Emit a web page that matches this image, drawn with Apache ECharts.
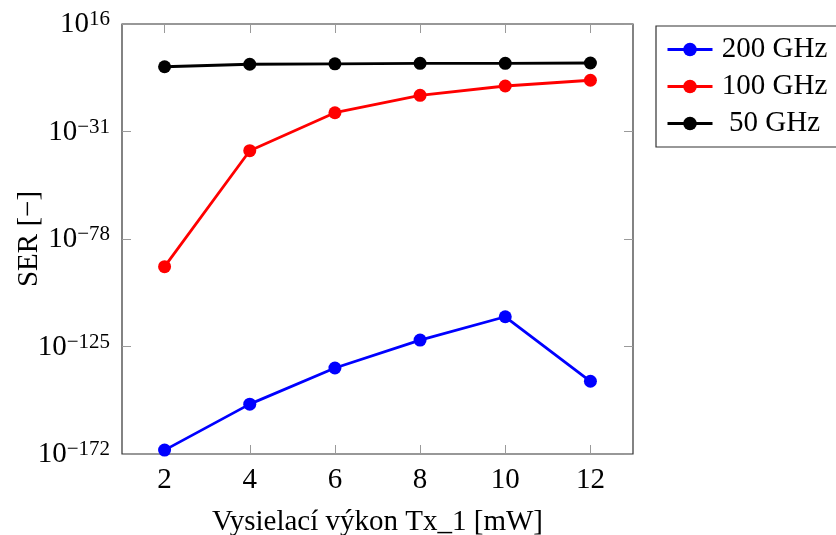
<!DOCTYPE html>
<html><head><meta charset="utf-8">
<script src="https://cdn.jsdelivr.net/npm/echarts@6/dist/echarts.min.js"></script>
<style>html,body{margin:0;padding:0;background:#fff}#c{width:836px;height:535px}</style>
</head><body><div id="c"></div>
<script>
const xValues = [2, 4, 6, 8, 10, 12];
// values as log10(SER)
const ser200 = [-170.3, -150.2, -134.4, -122.2, -112.0, -140.2];
const ser100 = [-90.1, -39.4, -22.8, -15.2, -11.1, -8.6];
const ser50 = [-2.7, -1.6, -1.4, -1.2, -1.2, -1.05];
const xTicks = [2, 4, 6, 8, 10, 12];
const yTicks = [-172, -125, -78, -31, 16];
const seriesNames = ['200 GHz', '100 GHz', '50 GHz'];
const colors = ['#0000ff', '#ff0000', '#000000'];

const FONT = 'Liberation Serif';
const chart = echarts.init(document.getElementById('c'), null, {renderer: 'canvas'});
function pairs(ys) { return xValues.map((x, i) => [x, ys[i]]); }
function sup(v) { return '{b|10}{s|' + String(v).replace('-', '\u2212') + '}'; }
const tickStyle = {show: true, inside: true, length: 9, lineStyle: {color: '#9a9a9a', width: 1}};
const noLine = {show: false, onZero: false};
const allData = [ser200, ser100, ser50];
chart.setOption({
  animation: false,
  grid: {left: 122, top: 24, right: 203, bottom: 81, outerBoundsMode: 'none', containLabel: false,
    show: true, borderColor: '#333', borderWidth: 1.2, backgroundColor: '#fff'},
  legend: {
    orient: 'vertical', left: 656, top: 26,
    borderColor: '#333', borderWidth: 1.2, backgroundColor: '#fff',
    padding: [9, 10, 9, 10], itemGap: 8, itemWidth: 45, itemHeight: 17,
    lineStyle: {width: 3},
    data: seriesNames,
    formatter: n => '{c|' + n + '}',
    textStyle: {fontFamily: FONT, fontSize: 29, color: '#000',
      rich: {c: {fontFamily: FONT, fontSize: 29, width: 114, align: 'center', color: '#000'}}}
  },
  xAxis: [{
    type: 'value', min: 1, max: 13, position: 'bottom',
    name: 'Vysielací výkon Tx_1 [mW]', nameLocation: 'middle', nameGap: 54, nameMoveOverlap: false,
    nameTextStyle: {fontFamily: FONT, fontSize: 29, color: '#000'},
    axisLine: noLine, splitLine: {show: false},
    axisTick: Object.assign({customValues: xTicks}, tickStyle),
    axisLabel: {customValues: xTicks, fontFamily: FONT, fontSize: 29, color: '#000', margin: 12}
  }, {
    type: 'value', min: 1, max: 13, position: 'top',
    axisLine: noLine, splitLine: {show: false},
    axisTick: Object.assign({customValues: xTicks}, tickStyle),
    axisLabel: {show: false}
  }],
  yAxis: [{
    type: 'value', min: -172, max: 16, position: 'left',
    name: 'SER [\u2212]', nameLocation: 'middle', nameGap: 93, nameRotate: 90, nameMoveOverlap: false,
    nameTextStyle: {fontFamily: FONT, fontSize: 29, color: '#000', verticalAlign: 'middle'},
    axisLine: noLine, splitLine: {show: false},
    axisTick: Object.assign({customValues: yTicks}, tickStyle),
    axisLabel: {customValues: yTicks, margin: 12, formatter: v => sup(v),
      rich: {
        b: {fontFamily: FONT, fontSize: 29, color: '#000', lineHeight: 30, verticalAlign: 'bottom'},
        s: {fontFamily: FONT, fontSize: 21, color: '#000', lineHeight: 30, verticalAlign: 'top', padding: [0, 0, 14, 0]}
      }}
  }, {
    type: 'value', min: -172, max: 16, position: 'right',
    axisLine: noLine, splitLine: {show: false},
    axisTick: Object.assign({customValues: yTicks}, tickStyle),
    axisLabel: {show: false}
  }],
  series: seriesNames.map((n, i) => ({
    name: n, type: 'line', data: pairs(allData[i]),
    symbol: 'circle', symbolSize: 13, clip: false,
    lineStyle: {color: colors[i], width: 2.8},
    itemStyle: {color: colors[i]}, z: 3 - i
  }))
});
</script></body></html>
